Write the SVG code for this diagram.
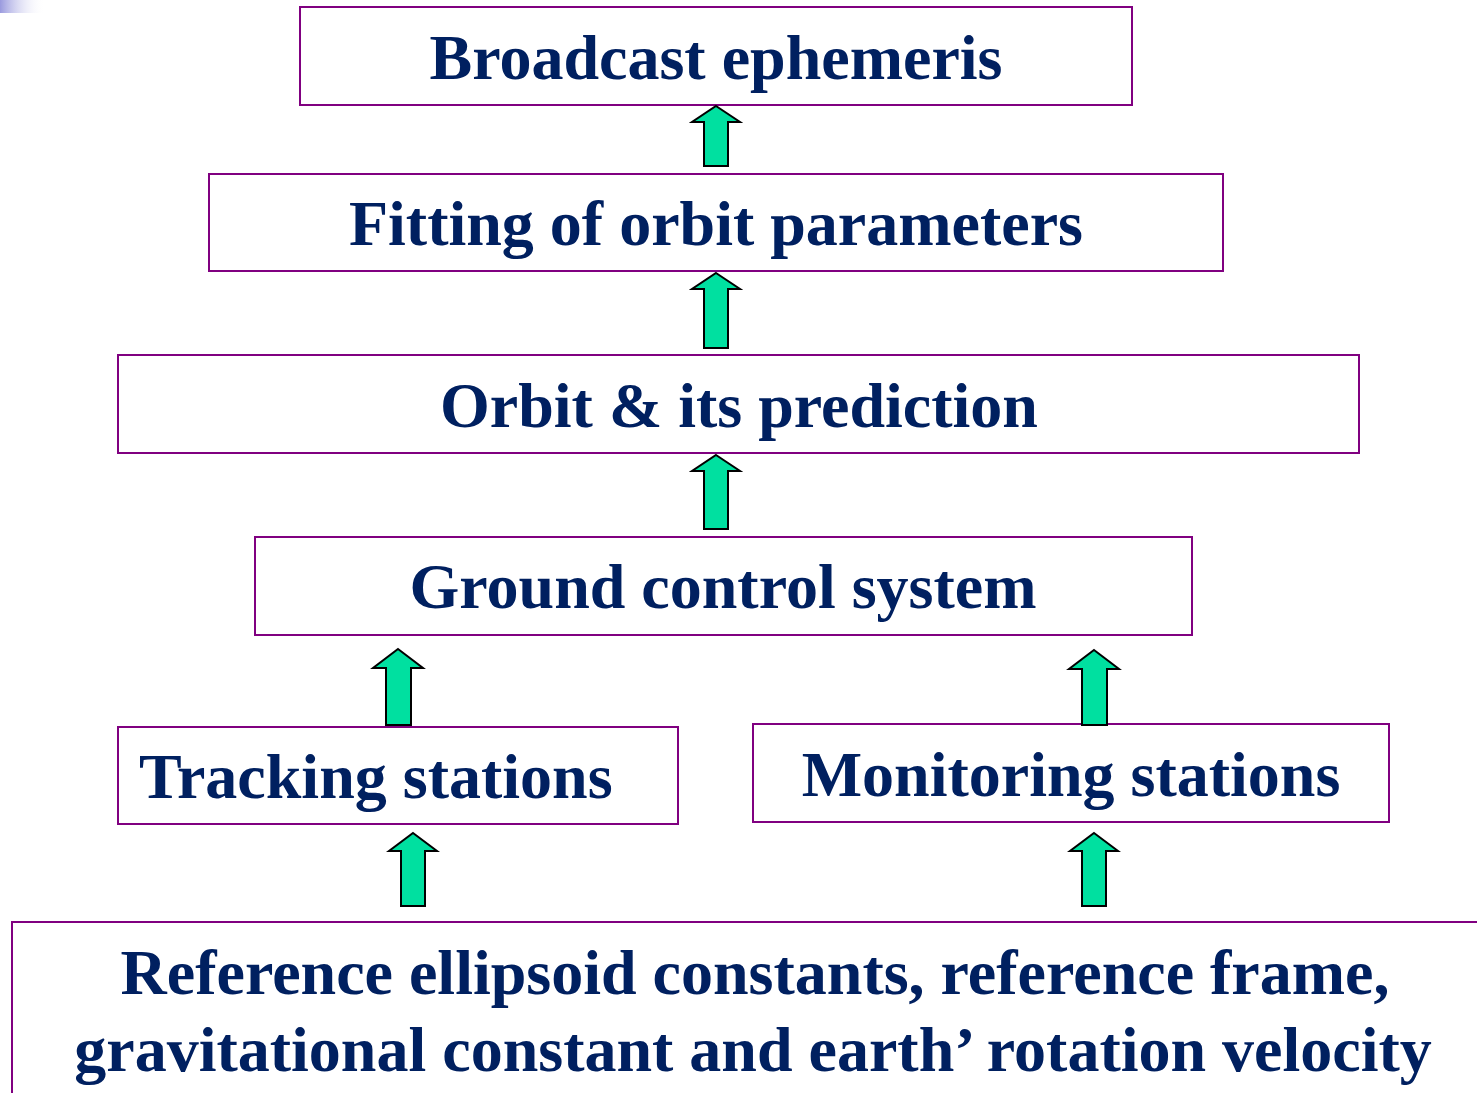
<svg xmlns="http://www.w3.org/2000/svg" width="1477" height="1093" viewBox="0 0 1477 1093">
<defs>
<linearGradient id="g" x1="0" y1="0" x2="1" y2="0">
<stop offset="0" stop-color="#9a9ade"/>
<stop offset="1" stop-color="#ffffff" stop-opacity="0"/>
</linearGradient>
</defs>
<style>
.box{fill:#fff;stroke:#800080;stroke-width:2}
.t{font-family:"Liberation Serif","Times New Roman",serif;font-weight:bold;font-size:64px;fill:#002060}
.ar{fill:#00E0A0;stroke:#000;stroke-width:2;stroke-linejoin:miter}
</style>
<rect width="1477" height="1093" fill="#fff"/>
<rect x="0" y="0" width="45" height="13" fill="url(#g)"/>
<g id="n1"><rect class="box" x="300" y="7" width="832" height="98"/><text class="t" x="716" y="79" text-anchor="middle">Broadcast ephemeris</text></g>
<g id="n2"><rect class="box" x="209" y="174" width="1014" height="97"/><text class="t" x="716" y="245" text-anchor="middle">Fitting of orbit parameters</text></g>
<g id="n3"><rect class="box" x="118" y="355" width="1241" height="98"/><text class="t" x="739" y="427" text-anchor="middle">Orbit &amp; its prediction</text></g>
<g id="n4"><rect class="box" x="255" y="537" width="937" height="98"/><text class="t" x="723" y="608" text-anchor="middle">Ground control system</text></g>
<g id="n5"><rect class="box" x="118" y="727" width="560" height="97"/><text class="t" x="139" y="798">Tracking stations</text></g>
<g id="n6"><rect class="box" x="753" y="724" width="636" height="98"/><text class="t" x="1071" y="796" text-anchor="middle">Monitoring stations</text></g>
<g id="n7"><rect class="box" x="12" y="922" width="1470" height="180"/><text class="t" x="755" y="994" text-anchor="middle">Reference ellipsoid constants, reference frame,</text><text class="t" x="753" y="1071" text-anchor="middle">gravitational constant and earth’ rotation velocity</text></g>
<g id="connectors">
<path class="ar" d="M716 106 L740 122 L728 122 L728 166 L704 166 L704 122 L692 122 Z"/>
<path class="ar" d="M716 273 L740 289 L728 289 L728 348 L704 348 L704 289 L692 289 Z"/>
<path class="ar" d="M716 455 L740 471 L728 471 L728 529 L704 529 L704 471 L692 471 Z"/>
<path class="ar" d="M398 649 L423 668 L411 668 L411 725 L386 725 L386 668 L373 668 Z"/>
<path class="ar" d="M1094 650 L1119 669 L1107 669 L1107 725 L1082 725 L1082 669 L1069 669 Z"/>
<path class="ar" d="M413 833 L437 851 L425 851 L425 906 L401 906 L401 851 L389 851 Z"/>
<path class="ar" d="M1094 833 L1118 851 L1106 851 L1106 906 L1082 906 L1082 851 L1070 851 Z"/>
</g>
</svg>
